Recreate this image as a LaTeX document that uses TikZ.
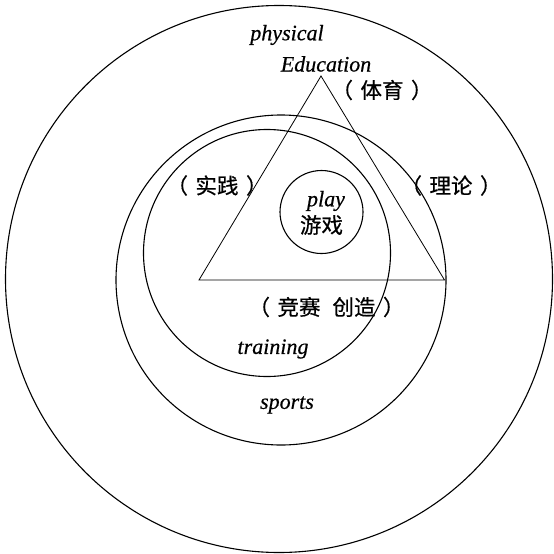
\documentclass[tikz,border=0pt]{standalone}
\usepackage{fontspec}
\setmainfont{Liberation Serif}[FakeBold=0.5]
\newfontfamily\cjk{Noto Sans CJK SC}[FakeBold=0.6]
\newcommand{\lp}{\makebox[0.85em][l]{\hspace{-0.5em}（}}
\newcommand{\rp}{\makebox[0.85em][r]{）\hspace{-0.5em}}}
\begin{document}
\begin{tikzpicture}[x=1pt,y=-1pt,
  ring/.style={circle,draw,line width=1.1pt,inner sep=0pt},
  en/.style={font=\fontsize{22}{24}\selectfont\itshape,inner sep=0pt},
  zh/.style={font=\fontsize{21.5}{24}\selectfont\cjk,inner sep=0pt}]
\useasboundingbox (0,0) rectangle (554,554);
\node[ring,minimum size=547pt] (outer) at (279,279) {};
\node[ring,minimum size=330pt] (sports) at (281,280) {};
\node[ring,minimum size=247pt] (training) at (267,253) {};
\node[ring,minimum size=83pt] (play) at (321.5,212) {};
\coordinate (apex) at (321,76);
\coordinate (bl) at (199,280);
\coordinate (br) at (444.5,280);
\draw[line width=0.8pt] (apex) -- (bl) -- (br) -- cycle;
\node[en] (tphys) at (287,35) {physical};
\node[en] (tedu) at (326,64) {Education};
\node[zh] (tty) at (382,90) {\lp 体育\rp};
\node[zh] (tsj) at (217,185.5) {\lp 实践\rp};
\node[zh] (tll) at (451,185.5) {\lp 理论\rp};
\node[en] (tplay) at (326,201) {play};
\node[zh] (tyx) at (321.5,225) {游戏};
\node[zh] (tjs) at (326.5,307) {\lp 竞赛\hspace{12pt}创造\rp};
\node[en] (ttrain) at (273,349) {training};
\node[en] (tsports) at (287,405) {sports};
\end{tikzpicture}
\end{document}
